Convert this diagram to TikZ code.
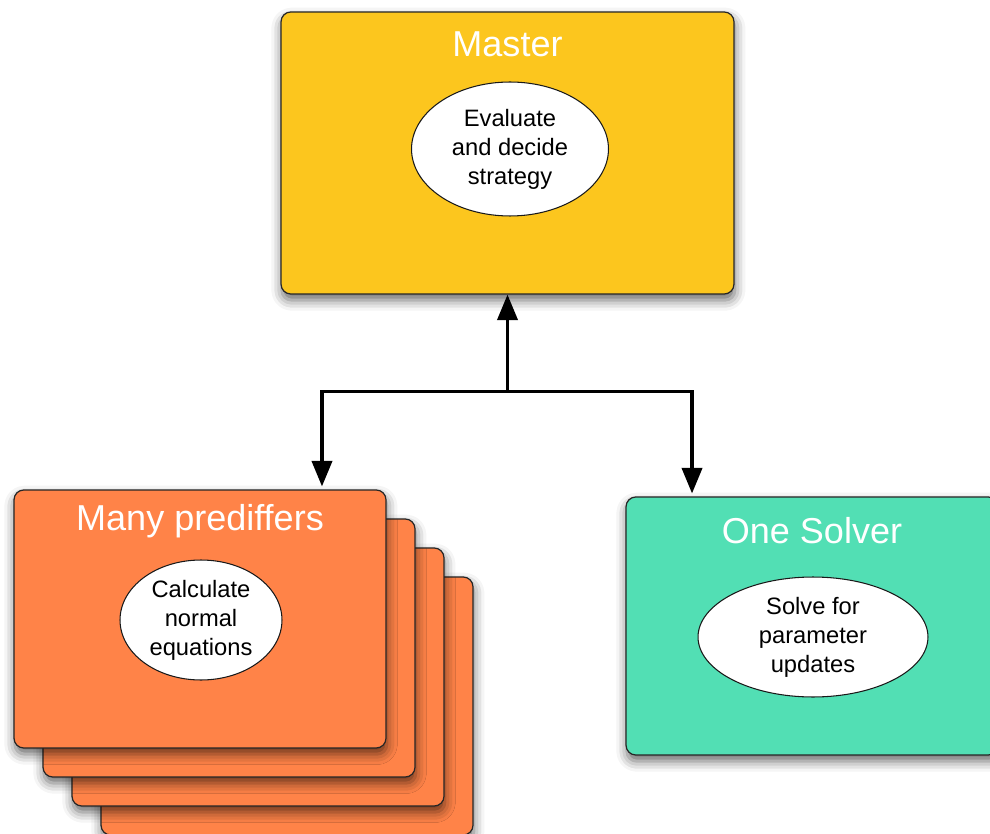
\documentclass[tikz,border=0pt]{standalone}
\usepackage{fontspec}
\setmainfont{Liberation Sans}
\usetikzlibrary{shapes.geometric,arrows.meta,shadows.blur}

\definecolor{masteryellow}{RGB}{252,198,30}
\definecolor{predorange}{RGB}{255,131,72}
\definecolor{solvergreen}{RGB}{82,223,180}

\tikzset{
  box/.style={draw=black!85, line width=0.7pt, rounded corners=5.5pt, inner sep=0pt,
    minimum width=7.44cm, minimum height=5.16cm,
    blur shadow={shadow xshift=0.5pt, shadow yshift=-3.5pt, shadow blur radius=6pt, shadow opacity=60}},
  title/.style={text=white, inner sep=0pt, font=\fontsize{20.5}{24}\selectfont},
  task/.style={ellipse, draw=black!90, fill=white, line width=0.6pt, inner sep=0pt,
    align=center, font=\fontsize{13.5}{16.5}\selectfont},
  link/.style={line width=1.8pt, -{Triangle[width=11.5pt,length=14.5pt]}}
}

\begin{document}
\begin{tikzpicture}[x=0.02cm, y=-0.02cm]
    % Page frame, 990 x 834
    \clip (0,0) rectangle (990,834);

    % Master
    \node[box, fill=masteryellow, minimum width=9.06cm, minimum height=5.64cm] (master) at (507.5,153) {};
    \node[title] (mastertitle) at ([yshift=-0.66cm]master.north) {Master};
    \node[task, minimum width=3.94cm, minimum height=2.68cm] (evaluate) at (510,149) {Evaluate\\and decide\\strategy};

    % Stack of prediffers, back to front
    \foreach \i in {3,2,1} {
        \node[box, fill=predorange] (pred\i) at (200+29*\i,619+29*\i) {};
    }
    \node[box, fill=predorange] (pred) at (200,619) {};
    \node[title] (predtitle) at ([yshift=-0.64cm]pred.north) {Many prediffers};
    \node[task, minimum width=3.24cm, minimum height=2.4cm] (normaleq) at (201,620) {Calculate\\normal\\equations};

    % Solver
    \node[box, fill=solvergreen] (solver) at (812,626) {};
    \node[title] (solvertitle) at ([yshift=-0.68cm]solver.north) {One Solver};
    \node[task, minimum width=4.6cm, minimum height=2.4cm] (update) at (813,637) {Solve for\\parameter\\updates};

    % Connections
    \coordinate (split) at ([yshift=-1.94cm]master.south);
    \draw[link] (split) -- (master.south);
    \draw[link] (split) -| ([xshift=2.44cm,yshift=0.06cm]pred.north);
    \draw[link] (split) -| ([xshift=-2.4cm,yshift=0.06cm]solver.north);
\end{tikzpicture}
\end{document}
